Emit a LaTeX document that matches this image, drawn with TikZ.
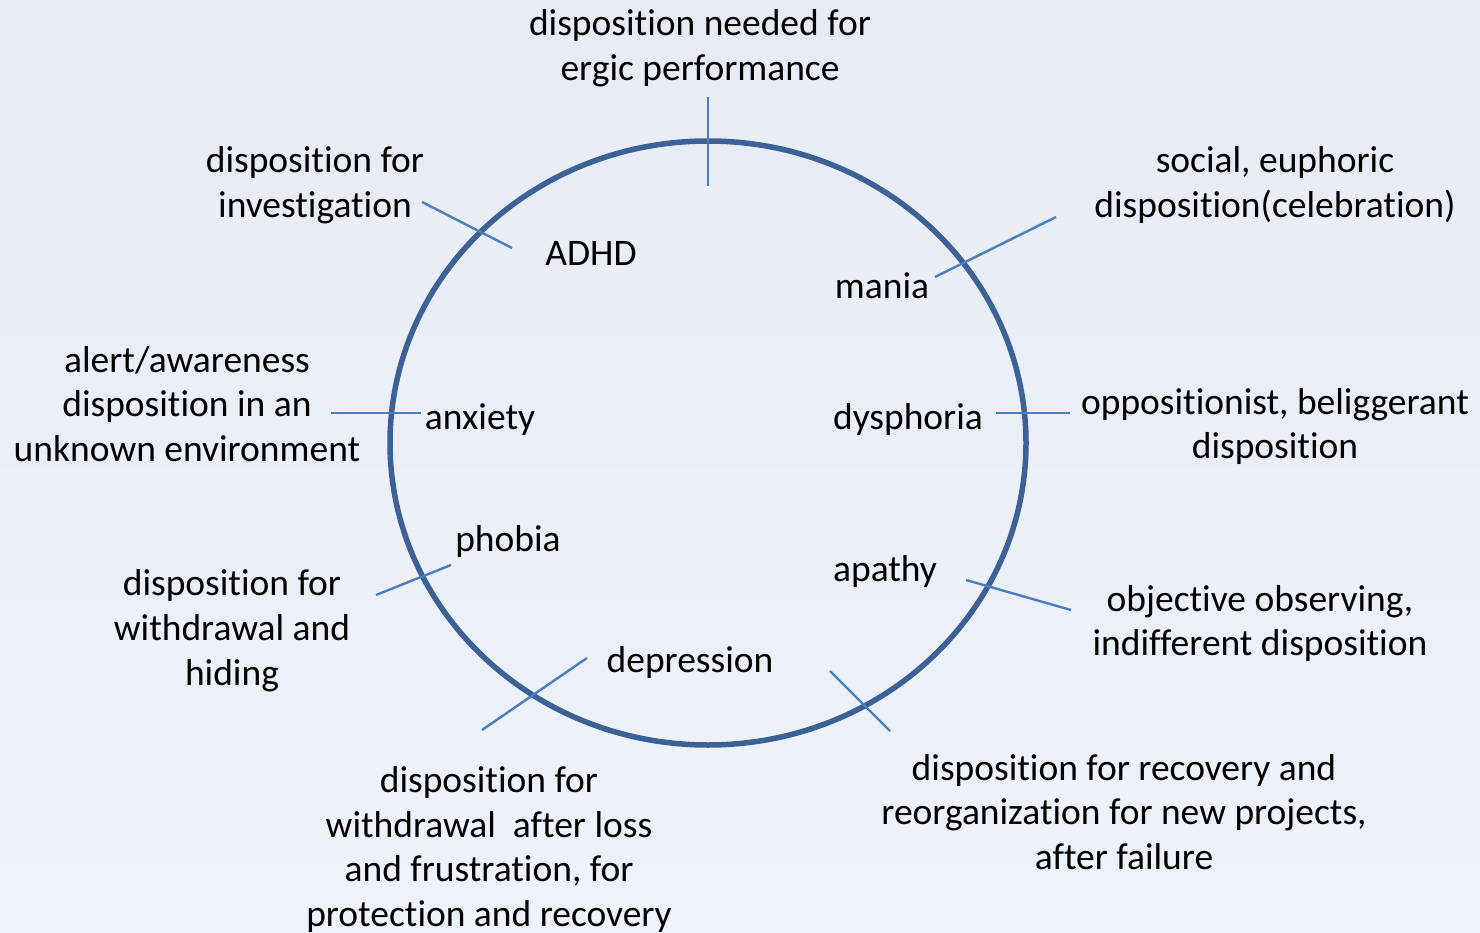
\documentclass[tikz,border=0pt]{standalone}
\usepackage{fontspec}
\setmainfont{Carlito}[Ligatures=NoCommon]
\definecolor{ringc}{HTML}{3B6196}
\definecolor{tickc}{HTML}{4A7EBF}
\definecolor{bgtop}{HTML}{E7EBF3}
\definecolor{bgbot}{HTML}{EEF2FA}
\begin{document}
\begin{tikzpicture}[x=1pt,y=-1pt,
  lbl/.style={align=center,inner sep=0pt,font=\fontsize{37.5}{44.8}\selectfont,text=black},
  tick/.style={draw=tickc,line width=2.4pt},
  ring/.style={draw=ringc,line width=5.5pt}]
\shade[top color=bgtop,bottom color=bgbot] (0,0) rectangle (1480,933);
\useasboundingbox (0,0) rectangle (1480,933);
\draw[ring] (708,443) ellipse [x radius=318,y radius=302];
% labels
\node[lbl] (perf) at (700,48.5) {disposition needed for\\ergic performance};
\node[lbl] (invest) at (315,185) {disposition for\\investigation};
\node[lbl] (adhd) at (591,253) {ADHD};
\node[lbl] (social) at (1275,185) {social, euphoric\\disposition(celebration)};
\node[lbl] (mania) at (882,286) {mania};
\node[lbl] (alert) at (187,404) {alert/awareness\\disposition in an\\unknown environment};
\node[lbl] (anx) at (480,420) {anxiety};
\node[lbl] (dys) at (908,420) {dysphoria};
\node[lbl] (oppo) at (1275,426.5) {oppositionist, beliggerant\\disposition};
\node[lbl] (phob) at (508,541) {phobia};
\node[lbl] (apathy) at (885,571) {apathy};
\node[lbl] (hide) at (232,630.5) {disposition for\\withdrawal and\\hiding};
\node[lbl] (obj) at (1260,623.5) {objective observing,\\indifferent disposition};
\node[lbl] (dep) at (690,662) {depression};
\node[lbl] (recov) at (1124,812) {disposition for recovery and\\reorganization for new projects,\\after failure};
\node[lbl] (loss) at (489,849.5) {disposition for\\withdrawal\ \ after loss\\and frustration, for\\protection and recovery};
% connector ends
\coordinate (t1a) at (708,97);  \coordinate (t1b) at (708,186);
\coordinate (t2a) at (422,202); \coordinate (t2b) at (512,248);
\coordinate (t3a) at (1056,217); \coordinate (t3b) at (935,277);
\coordinate (t4a) at (996,413); \coordinate (t4b) at (1070,413);
\coordinate (t5a) at (331,413); \coordinate (t5b) at (421,413);
\coordinate (t6a) at (376,595); \coordinate (t6b) at (451,565);
\coordinate (t7a) at (966,580); \coordinate (t7b) at (1071,610);
\coordinate (t8a) at (482,730); \coordinate (t8b) at (587,658);
\coordinate (t9a) at (830,671); \coordinate (t9b) at (890,731);
\draw[tick] (t1a) -- (t1b);
\draw[tick] (t2a) -- (t2b);
\draw[tick] (t3a) -- (t3b);
\draw[tick] (t4a) -- (t4b);
\draw[tick] (t5a) -- (t5b);
\draw[tick] (t6a) -- (t6b);
\draw[tick] (t7a) -- (t7b);
\draw[tick] (t8a) -- (t8b);
\draw[tick] (t9a) -- (t9b);
\end{tikzpicture}
\end{document}
